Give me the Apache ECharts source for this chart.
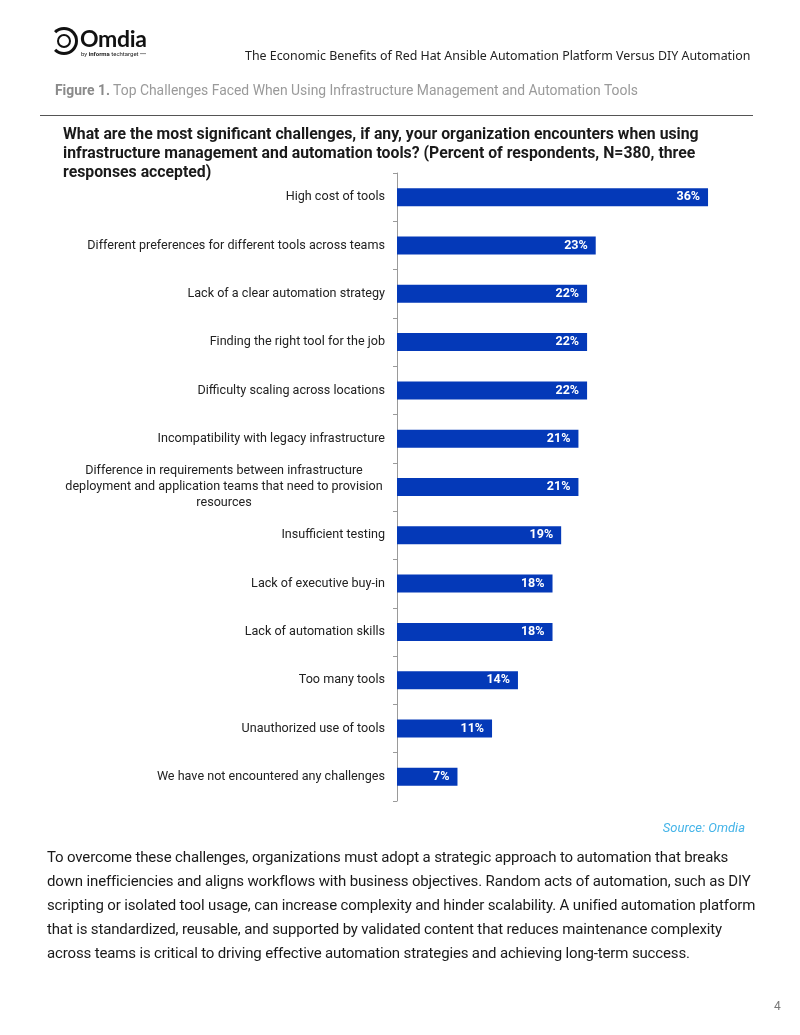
<!DOCTYPE html>
<html>
<head>
<meta charset="utf-8">
<script src="https://cdn.jsdelivr.net/npm/echarts@6/dist/echarts.min.js"></script>
<style>
  body { margin: 0; background: #fff; }
  #page { position: relative; width: 800px; height: 1035px; overflow: hidden; font-family: Roboto, "Noto Sans", sans-serif; }
  .abs { position: absolute; white-space: nowrap; }
  #chart { position: absolute; left: 0; top: 0; width: 800px; height: 1035px; }
</style>
</head>
<body>
<div id="page">
  <div id="chart"></div>

  <!-- logo -->
  <div class="abs" style="left:50px;top:27px;width:22px;height:22px;border:3px solid #111;border-radius:50%;border-left-color:transparent;"></div>
  <div class="abs" style="left:57px;top:34px;width:10px;height:10px;border:2.5px solid #111;border-radius:50%;"></div>
  <div class="abs" style="left:80px;top:24px;font:700 23px Lato, Roboto, sans-serif;color:#111;letter-spacing:-0.3px;">Omdia</div>
  <div class="abs" style="left:81px;top:50px;font:6px Roboto, sans-serif;color:#222;">by <b>informa</b> techtarget &bull;&bull;&bull;</div>

  <div class="abs" style="left:245px;top:47px;font:12.4px 'Noto Sans', sans-serif;color:#222;">The Economic Benefits of Red Hat Ansible Automation Platform Versus DIY Automation</div>

  <div class="abs" style="left:55px;top:82px;font:13.9px Roboto, sans-serif;color:#9a9a9a;"><b style="color:#8a8a8a">Figure 1.</b> Top Challenges Faced When Using Infrastructure Management and Automation Tools</div>
  <div class="abs" style="left:40px;top:115px;width:713px;height:1px;background:#555;"></div>

  <div class="abs" style="left:63px;top:124px;font:700 15.8px Roboto, sans-serif;color:#1a1a1a;line-height:19px;white-space:normal;width:680px;">What are the most significant challenges, if any, your organization encounters when using infrastructure management and automation tools? (Percent of respondents, N=380, three responses accepted)</div>

  <div class="abs" style="right:55px;top:820px;font:italic 13px Roboto, sans-serif;color:#45b4e8;">Source: Omdia</div>

  <div class="abs" style="left:47px;top:845px;font:15px Roboto, sans-serif;color:#1a1a1a;line-height:24px;letter-spacing:-0.15px;">To overcome these challenges, organizations must adopt a strategic approach to automation that breaks<br>down inefficiencies and aligns workflows with business objectives. Random acts of automation, such as DIY<br>scripting or isolated tool usage, can increase complexity and hinder scalability. A unified automation platform<br>that is standardized, reusable, and supported by validated content that reduces maintenance complexity<br>across teams is critical to driving effective automation strategies and achieving long-term success.</div>

  <div class="abs" style="left:774px;top:999px;font:12px Roboto, sans-serif;color:#777;">4</div>
</div>
<script>
const categories = [
  'High cost of tools',
  'Different preferences for different tools across teams',
  'Lack of a clear automation strategy',
  'Finding the right tool for the job',
  'Difficulty scaling across locations',
  'Incompatibility with legacy infrastructure',
  'Difference in requirements between infrastructure\ndeployment and application teams that need to provision\nresources',
  'Insufficient testing',
  'Lack of executive buy-in',
  'Lack of automation skills',
  'Too many tools',
  'Unauthorized use of tools',
  'We have not encountered any challenges'
]
const values = [36, 23, 22, 22, 22, 21, 21, 19, 18, 18, 14, 11, 7]

const chart = echarts.init(document.getElementById('chart'))
chart.setOption({
  animation: false,
  grid: {
    left: 397,
    top: 173,
    width: 345.6,
    height: 628
  },
  xAxis: {
    type: 'value',
    min: 0,
    max: 40,
    show: false
  },
  yAxis: {
    type: 'category',
    inverse: true,
    data: categories,
    axisLine: {
      lineStyle: { color: '#9a9a9a', width: 1 }
    },
    // 刻度在类目边界
    axisTick: {
      show: true,
      length: 4,
      lineStyle: { color: '#9a9a9a' }
    },
    axisLabel: {
      margin: 12,
      color: '#222',
      fontSize: 12.6,
      fontFamily: 'Roboto',
      lineHeight: 16,
      formatter: function (v) {
        if (v.indexOf('\n') < 0) return v
        return v.split('\n').map(function (s) { return '{c|' + s + '}' }).join('\n')
      },
      rich: {
        c: { width: 322, align: 'center', color: '#222', fontSize: 12.6, fontFamily: 'Roboto', lineHeight: 16 }
      }
    }
  },
  series: [
    {
      type: 'bar',
      data: values,
      barWidth: 18,
      itemStyle: { color: '#0439b8' },
      label: {
        show: true,
        position: 'insideRight',
        distance: 8,
        color: '#fff',
        fontWeight: 'bold',
        fontSize: 12.5,
        fontFamily: 'Roboto',
        formatter: '{c}%'
      }
    }
  ]
})
</script>
</body>
</html>
